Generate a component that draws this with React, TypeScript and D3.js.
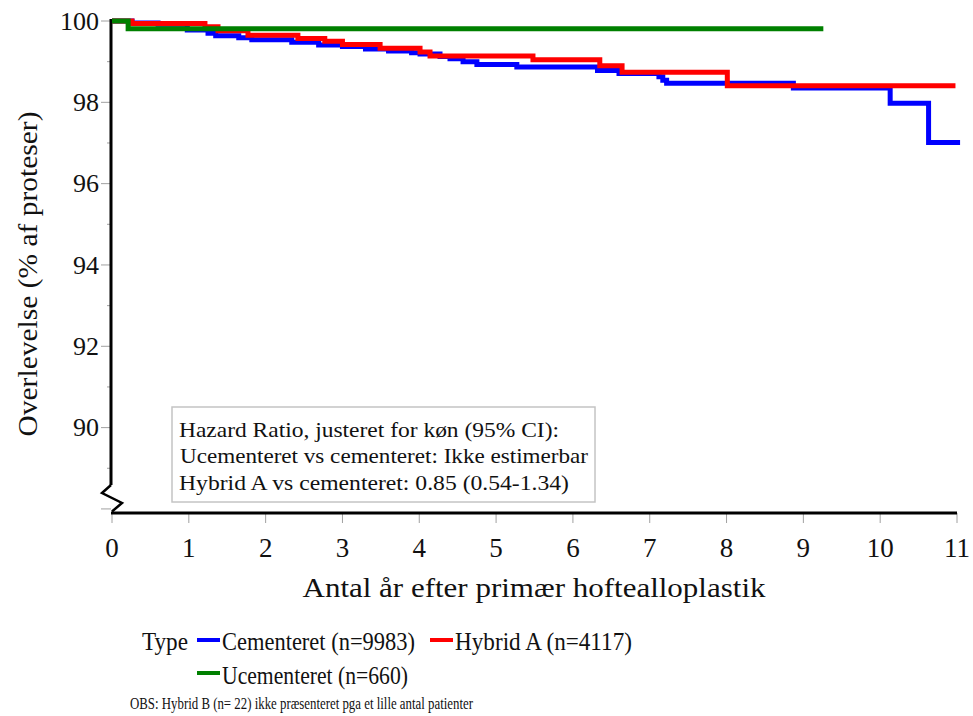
import React from "react";
import * as d3 from "d3";

// ---- data ----
const cementTimes = [0, 0.26, 0.6, 0.98, 1.25, 1.35, 1.65, 1.82, 2.34, 2.69, 3.0, 3.3, 3.6, 3.9, 4.01, 4.27, 4.4, 4.57, 4.75, 5.27, 6.32, 6.6, 7.12, 7.17, 7.22, 8.87, 10.13, 10.63, 11.04];
const cementValues = [100, 99.95, 99.92, 99.78, 99.7, 99.64, 99.59, 99.54, 99.48, 99.41, 99.37, 99.31, 99.26, 99.22, 99.19, 99.13, 99.07, 99.0, 98.93, 98.87, 98.78, 98.71, 98.63, 98.54, 98.47, 98.35, 97.98, 97.01, 97.01];

const hybridTimes = [0, 0.26, 1.21, 1.38, 1.77, 2.42, 2.77, 3.0, 3.49, 4.01, 4.14, 5.48, 6.35, 6.64, 8.01, 10.98];
const hybridValues = [100, 99.94, 99.86, 99.76, 99.65, 99.57, 99.5, 99.42, 99.33, 99.24, 99.14, 99.05, 98.9, 98.74, 98.41, 98.41];

const ucemTimes = [0, 0.21, 9.26];
const ucemValues = [100, 99.81, 99.81];

const xTicks = [0, 1, 2, 3, 4, 5, 6, 7, 8, 9, 10, 11];
const yTicks = [88, 89, 90, 91, 92, 93, 94, 95, 96, 97, 98, 99, 100];
const yLabels = [90, 92, 94, 96, 98, 100];

const legendLabels = ["Cementeret (n=9983)", "Hybrid A (n=4117)", "Ucementeret (n=660)"];
const seriesColors = ["#0000FF", "#FF0000", "#008000"];
const boxLines = [
  "Hazard Ratio, justeret for køn (95% CI):",
  "Ucementeret vs cementeret: Ikke estimerbar",
  "Hybrid A vs cementeret: 0.85 (0.54-1.34)",
];

const FONT = '"Liberation Serif", "Times New Roman", Times, serif';

export default function App() {
  const x = d3.scaleLinear().domain([0, 11]).range([112, 957]);
  const y = d3.scaleLinear().domain([87.9, 100]).range([513, 21]);

  const line = d3
    .line<[number, number]>()
    .x((d) => x(d[0]))
    .y((d) => y(d[1]))
    .curve(d3.curveStepAfter);

  const series = [
    { t: cementTimes, v: cementValues, c: seriesColors[0] },
    { t: hybridTimes, v: hybridValues, c: seriesColors[1] },
    { t: ucemTimes, v: ucemValues, c: seriesColors[2] },
  ];

  const x0 = x(0);
  const yBase = y(87.9);
  const tStyle = { fontFamily: FONT };

  return (
    <svg
      width={973}
      height={716}
      style={{ position: "absolute", left: 0, top: 0, background: "#fff", fontFamily: FONT }}
    >
      <rect x={0} y={0} width={973} height={716} fill="#fff" />

      {/* y ticks */}
      {yTicks.map((v) => (
        <line
          key={"yt" + v}
          x1={x0 - (v % 2 === 0 ? 11 : 5)}
          x2={x0 - 1}
          y1={y(v)}
          y2={y(v)}
          stroke="#a0a0a0"
          strokeWidth={1}
        />
      ))}
      {yLabels.map((v) => (
        <text key={"yl" + v} style={tStyle} x={x0 - 13} y={y(v)} dy="0.34em" textAnchor="end" fontSize={26} fill="#111">
          {v}
        </text>
      ))}

      {/* x ticks */}
      {xTicks.map((t) => (
        <line key={"xt" + t} x1={x(t)} x2={x(t)} y1={yBase} y2={yBase + 10} stroke="#a0a0a0" strokeWidth={1} />
      ))}
      {xTicks.map((t) => (
        <text key={"xl" + t} style={tStyle} x={x(t)} y={557} textAnchor="middle" fontSize={27} fill="#111">
          {t}
        </text>
      ))}

      {/* axes */}
      <line x1={x0 - 1} x2={x0 - 1} y1={19} y2={485} stroke="#000" strokeWidth={3} />
      <path
        d={`M${x0 - 1},485 L${x0 - 10},493 L${x0 + 10},503 L${x0},511.5`}
        fill="none"
        stroke="#000"
        strokeWidth={2.5}
      />
      <line x1={x0 - 1} x2={x(11)} y1={yBase} y2={yBase} stroke="#000" strokeWidth={3} />

      {/* curves */}
      <g>
        {series.map((s, i) => (
          <path
            key={"s" + i}
            d={line(s.t.map((t, j) => [t, s.v[j]] as [number, number])) || ""}
            fill="none"
            stroke={s.c}
            strokeWidth={5}
            strokeLinejoin="miter"
          />
        ))}
      </g>

      {/* hazard box */}
      <rect x={172} y={407} width={423} height={95} fill="#fff" stroke="#c4c4c4" strokeWidth={1.5} />
      <text style={tStyle} x={179} y={437} fontSize={21} fill="#111" textLength={380} lengthAdjust="spacingAndGlyphs">
        {boxLines[0]}
      </text>
      <text style={tStyle} x={180} y={463} fontSize={21} fill="#111" textLength={408} lengthAdjust="spacingAndGlyphs">
        {boxLines[1]}
      </text>
      <text style={tStyle} x={179} y={490} fontSize={21} fill="#111" textLength={390} lengthAdjust="spacingAndGlyphs">
        {boxLines[2]}
      </text>

      {/* axis titles */}
      <text
        style={tStyle}
        transform={`translate(37,274) rotate(-90)`}
        textAnchor="middle"
        fontSize={27}
        fill="#111"
        textLength={325}
        lengthAdjust="spacingAndGlyphs"
      >
        Overlevelse (% af proteser)
      </text>
      <text style={tStyle} x={534} y={597} textAnchor="middle" fontSize={28} fill="#111" textLength={463} lengthAdjust="spacingAndGlyphs">
        Antal år efter primær hoftealloplastik
      </text>

      {/* legend */}
      <text style={tStyle} x={142} y={650} fontSize={25} fill="#111" textLength={46} lengthAdjust="spacingAndGlyphs">
        Type
      </text>
      <line x1={197} x2={220} y1={640} y2={640} stroke={seriesColors[0]} strokeWidth={4} />
      <text style={tStyle} x={222} y={650} fontSize={25} fill="#111" textLength={193} lengthAdjust="spacingAndGlyphs">
        {legendLabels[0]}
      </text>
      <line x1={430} x2={453} y1={640} y2={640} stroke={seriesColors[1]} strokeWidth={4} />
      <text style={tStyle} x={455} y={650} fontSize={25} fill="#111" textLength={177} lengthAdjust="spacingAndGlyphs">
        {legendLabels[1]}
      </text>
      <line x1={197} x2={220} y1={673} y2={673} stroke={seriesColors[2]} strokeWidth={4} />
      <text style={tStyle} x={222} y={684} fontSize={25} fill="#111" textLength={186} lengthAdjust="spacingAndGlyphs">
        {legendLabels[2]}
      </text>
      <text style={tStyle} x={130} y={709} fontSize={17.5} fill="#111" textLength={343} lengthAdjust="spacingAndGlyphs">
        OBS: Hybrid B (n= 22) ikke præsenteret pga et lille antal patienter
      </text>
    </svg>
  );
}
